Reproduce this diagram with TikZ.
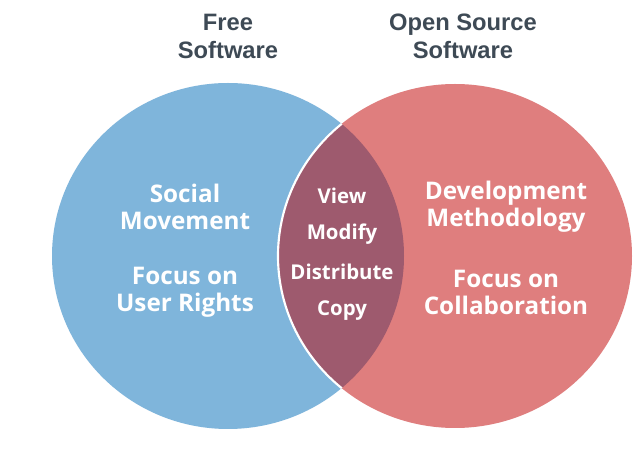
\documentclass[tikz,border=0pt]{standalone}
\usepackage{fontspec}
\setmainfont{Open Sans}
\newfontfamily\titlefont{Liberation Sans}
\definecolor{fsblue}{HTML}{7FB5DB}
\definecolor{osred}{HTML}{DF7E7E}
\definecolor{overlap}{HTML}{9E5A6E}
\definecolor{titlegray}{HTML}{3E4A55}
\begin{document}
\begin{tikzpicture}[x=0.75pt,y=-0.75pt,
  title/.style={font=\titlefont\bfseries\fontsize{17.8}{21}\selectfont,
    text=titlegray, align=center, inner sep=0pt},
  sidetext/.style={font=\bfseries\fontsize{18.2}{20.25}\selectfont,
    text=white, align=center, inner sep=0pt},
  midtext/.style={font=\bfseries\fontsize{15.3}{16}\selectfont,
    text=white, inner sep=0pt}]
  \useasboundingbox (0,0) rectangle (640,463);
  \fill[white] (0,0) rectangle (640,463);
  % circles
  \fill[fsblue] (228,256) ellipse [x radius=176, y radius=173];
  \fill[osred] (455,256) ellipse [x radius=177, y radius=172];
  \begin{scope}
    \clip (228,256) ellipse [x radius=176, y radius=173];
    \fill[overlap] (455,256) ellipse [x radius=177, y radius=172];
    \draw[white, line width=1.6pt] (455,256) ellipse [x radius=177, y radius=172];
  \end{scope}
  % titles
  \node[title] (free) at (228,36) {Free\\Software};
  \node[title] (oss) at (463,36) {Open Source\\Software};
  % left circle
  \node[sidetext] (social) at (185,207) {Social\\Movement};
  \node[sidetext] (rights) at (185,292) {Focus on\\User Rights};
  % right circle
  \node[sidetext] (devel) at (506,207) {Development\\Methodology};
  \node[sidetext] (collab) at (506,292) {Focus on\\Collaboration};
  % overlap
  \node[midtext] (view) at (342,196) {View};
  \node[midtext] (modify) at (342,234) {Modify};
  \node[midtext] (distribute) at (342,272) {Distribute};
  \node[midtext] (copy) at (342,311) {Copy};
\end{tikzpicture}
\end{document}
